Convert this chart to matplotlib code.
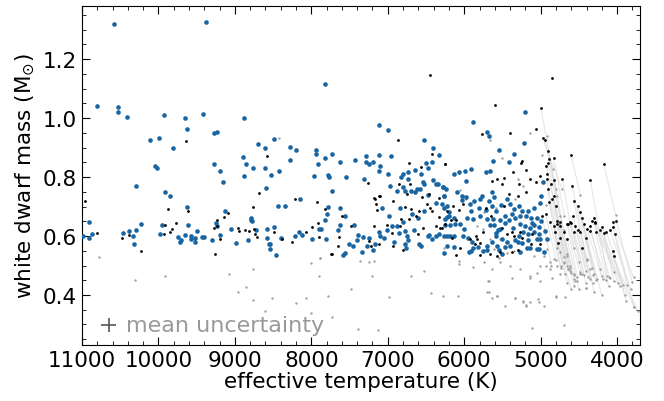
import numpy as np
import matplotlib
matplotlib.use("Agg")
import matplotlib.pyplot as plt
from matplotlib.ticker import MultipleLocator

# --- donnees ---
# points bleus (teff en K, masse en Msun)
blue_teff = [10580, 9380, 10800, 10530, 10530, 10410, 9930, 9650, 9630, 9420, 8875, 10105, 9990, 9805,
             9270, 9235, 10045, 10015, 9275, 9200, 9160, 10295, 9910, 9845, 8695, 8605, 8490, 8900,
             8850, 8760, 8605, 8875, 8525, 8425, 8595, 8275, 8195, 8280, 7945, 7945, 7915, 7825, 7735,
             7970, 7785, 7765, 7735, 8435, 8345, 8150, 9625, 9130, 8795, 8785, 8775, 7795, 7785, 7815,
             10905, 10870, 10905, 10985, 10470, 10390, 10335, 10315, 10290, 10225, 9960, 9985, 9745,
             9705, 9720, 9655, 9615, 9580, 9580, 9520, 9525, 9495, 9430, 9405, 9300, 9245, 9235, 9200,
             9045, 8990, 8830, 8725, 8585, 8585, 8555, 8535, 8540, 8485, 8395, 8465, 8220, 8155, 8120,
             7990, 7905, 7875, 7810,
             7815, 7110, 6995, 6525, 6410, 6330, 7630, 7545, 7430, 7310, 7290, 7285, 7240, 7195, 7115,
             7100, 7115, 6995, 6960, 6975, 6880, 6830, 6795, 6740, 6740, 6805, 6770, 6700, 6645, 6645,
             6620, 6575, 6560, 6540, 6530, 6505, 6480, 6425, 6410, 6375, 6340, 6280, 6260, 6480,
             7625, 7555, 7650, 7630, 7440, 7390, 7325, 7405, 7510, 7455, 7560, 7580, 7335, 7275, 7250,
             7195, 7170, 7110, 7075, 7100, 7045, 7010, 6985, 6940, 6925, 6880, 6855, 6840, 6795, 6775,
             6750, 6735, 6770, 6760, 6680, 6655, 6610, 6585, 6560, 6525, 6480, 6455, 6420, 6375, 6365,
             6325, 6290, 6260, 6245, 6220, 6270, 6200, 6190, 6260,
             5200, 5880, 5705, 5675, 5545, 5625, 5415, 5345, 5215, 5915, 5990, 6070, 6130, 5720, 5660,
             5980, 6280, 6235, 6095, 6025, 5975, 6035, 6260, 5870, 5790, 5765, 5640, 5615, 5670, 5930,
             5810, 5905, 5965, 5880, 5790, 5720, 5640, 5580, 6225, 6200, 6255, 6140, 6120, 6060, 6185,
             6000, 6015, 6140, 6225, 5950, 5895, 5880, 5940, 6130, 5825, 5705, 5660, 5625, 5535, 5530,
             5460, 5440, 5405, 5355, 5285, 5250, 5170, 5090, 5005, 4990, 4970, 5380, 5330, 5265, 5195,
             5125, 5050, 5275, 5205, 5145, 5085, 5020, 5225, 5160, 5090, 5020, 5285, 5330, 5170, 5050,
             5005, 5590, 5635, 5570, 5500, 5440, 5460, 5400, 5705, 5755, 5545, 5180, 5050, 4960, 6225,
             5265, 5135, 5020, 5500, 5705, 4915, 4945,
             5470, 5610, 5560, 5905, 5520, 5360, 5110, 5300, 5240, 4990, 5420, 5580]
blue_mass = [1.318, 1.326, 1.040, 1.037, 1.020, 1.005, 1.012, 0.999, 0.962, 1.015, 0.999, 0.924, 0.931, 0.900,
             0.948, 0.953, 0.837, 0.832, 0.845, 0.819, 0.782, 0.771, 0.750, 0.737, 0.913, 0.900, 0.928, 0.868,
             0.843, 0.830, 0.830, 0.802, 0.807, 0.821, 0.764, 0.902, 0.892, 0.859, 0.893, 0.879, 0.844, 0.866, 0.878,
             0.805, 0.807, 0.801, 0.754, 0.701, 0.702, 0.725, 0.697, 0.686, 0.662, 0.655, 0.651, 0.674, 0.697, 0.655,
             0.647, 0.607, 0.592, 0.601, 0.611, 0.616, 0.601, 0.574, 0.620, 0.641, 0.638, 0.608, 0.598,
             0.585, 0.581, 0.603, 0.637, 0.600, 0.590, 0.592, 0.578, 0.617, 0.597, 0.596, 0.588, 0.644, 0.635, 0.603,
             0.623, 0.576, 0.588, 0.620, 0.624, 0.592, 0.574, 0.572, 0.557, 0.630, 0.594, 0.534, 0.599, 0.614, 0.603,
             0.591, 0.624, 0.624, 0.591,
             1.115, 0.976, 0.960, 0.924, 0.897, 0.875, 0.850, 0.801, 0.859, 0.795, 0.872, 0.852, 0.845, 0.850, 0.875,
             0.836, 0.819, 0.811, 0.872, 0.768, 0.751, 0.801, 0.809, 0.816, 0.795, 0.765, 0.754, 0.752, 0.825, 0.748,
             0.761, 0.761, 0.811, 0.782, 0.775, 0.847, 0.829, 0.850, 0.791, 0.778, 0.778, 0.767, 0.734, 0.739,
             0.694, 0.669, 0.621, 0.637, 0.637, 0.603, 0.595, 0.588, 0.574, 0.565, 0.542, 0.536, 0.545, 0.565, 0.594,
             0.551, 0.574, 0.615, 0.696, 0.601, 0.592, 0.621, 0.669, 0.633, 0.578, 0.635, 0.610, 0.694, 0.646, 0.617,
             0.599, 0.588, 0.574, 0.558, 0.676, 0.621, 0.660, 0.574, 0.565, 0.685, 0.599, 0.603, 0.590, 0.712, 0.601,
             0.606, 0.707, 0.696, 0.637, 0.664, 0.542, 0.669, 0.601, 0.599,
             1.020, 0.985, 0.954, 0.938, 0.893, 0.854, 0.852, 0.877, 0.915, 0.827, 0.820, 0.816, 0.809, 0.816, 0.820,
             0.786, 0.766, 0.761, 0.750, 0.737, 0.732, 0.723, 0.737, 0.719, 0.725, 0.734, 0.750, 0.732, 0.719, 0.707,
             0.694, 0.685, 0.662, 0.658, 0.669, 0.689, 0.701, 0.685, 0.701, 0.681, 0.658, 0.662, 0.640, 0.640, 0.637,
             0.624, 0.601, 0.601, 0.601, 0.592, 0.578, 0.560, 0.547, 0.563, 0.563, 0.658, 0.637, 0.658, 0.624, 0.653,
             0.644, 0.725, 0.707, 0.692, 0.703, 0.685, 0.685, 0.696, 0.712, 0.737, 0.782, 0.673, 0.660, 0.669, 0.667,
             0.662, 0.662, 0.642, 0.635, 0.628, 0.637, 0.630, 0.612, 0.606, 0.612, 0.606, 0.601, 0.588, 0.588, 0.590,
             0.590, 0.601, 0.581, 0.567, 0.590, 0.578, 0.563, 0.567, 0.567, 0.549, 0.551, 0.560, 0.556, 0.545, 0.567,
             0.545, 0.560, 0.556, 0.540, 0.554, 0.590, 0.617,
             0.669, 0.637, 0.620, 0.548, 0.706, 0.628, 0.645, 0.580, 0.575, 0.650, 0.655, 0.610]

# points noirs sans trait
black_teff = [10965, 10800, 10480, 10390, 10225, 9635, 9610, 9875, 9915, 9930, 9845, 9820, 9770, 9275, 9240,
              9230, 9190, 9140, 9095, 9260, 8960, 8950, 8865, 8820, 8760, 8745, 8740, 8710, 8680, 8575, 8490,
              8390, 8250, 8210, 8065, 7995, 7920, 7915, 7900, 7815, 7740,
              6445, 6860, 6725, 6565, 6425, 6245, 7255, 6855, 6715, 6750, 6550, 6455, 6330, 7110, 7180, 7170,
              7100, 7150, 7135, 6935, 7595, 7485, 7185, 7005, 6940, 6830, 6840, 6725, 6635, 6770, 6690, 6585,
              6490, 6445, 6420, 6330, 6375, 6315, 6245, 7250, 7220, 7110, 6935, 6805, 6600, 6540, 7650, 7640, 7735,
              5600, 4850, 5765, 5405, 5060, 6245, 5240, 5260, 5365, 5190, 5285, 5195, 5145, 5055, 5005, 4920,
              5635, 5565, 5485, 5500, 5415, 5300, 6150, 6070, 6015, 6220, 6295, 6105, 5710, 5650, 5755, 5835,
              5920, 5790, 5850, 5860, 6050, 6155, 6105, 5475, 5500, 5440, 5380, 5345, 5265, 5250, 5110, 5125,
              5005, 5380, 5300, 5530, 5660, 5570, 5790, 6175]
black_mass = [0.720, 0.611, 0.592, 0.605, 0.549, 0.923, 0.684, 0.692, 0.636, 0.608, 0.614, 0.625, 0.645, 0.626, 0.653,
              0.633, 0.590, 0.664, 0.677, 0.538, 0.627, 0.616, 0.620, 0.618, 0.697, 0.624, 0.606, 0.597, 0.745, 0.873, 0.612,
              0.589, 0.578, 0.725, 0.612, 0.630, 0.715, 0.645, 0.597, 0.692, 0.538,
              1.146, 0.924, 0.847, 0.835, 0.877, 0.844, 0.780, 0.775, 0.775, 0.741, 0.732, 0.741, 0.728, 0.737, 0.728, 0.725,
              0.734, 0.710, 0.689, 0.719, 0.667, 0.633, 0.635, 0.637, 0.610, 0.658, 0.633, 0.658, 0.669, 0.700, 0.691, 0.685,
              0.710, 0.696, 0.685, 0.664, 0.633, 0.626, 0.642, 0.583, 0.567, 0.572, 0.567, 0.551, 0.606, 0.628, 0.565, 0.597, 0.538,
              1.044, 1.136, 0.945, 0.949, 0.963, 0.845, 0.856, 0.847, 0.818, 0.825, 0.775, 0.748, 0.793, 0.784, 0.804, 0.809,
              0.786, 0.793, 0.798, 0.777, 0.741, 0.737, 0.703, 0.689, 0.707, 0.685, 0.626, 0.653, 0.696, 0.669, 0.612, 0.590,
              0.590, 0.576, 0.599, 0.574, 0.558, 0.594, 0.535, 0.703, 0.628, 0.608, 0.612, 0.601, 0.615, 0.592, 0.606, 0.572,
              0.572, 0.547, 0.554, 0.545, 0.538, 0.533, 0.535, 0.655]

# paires noir -> gris reliees par un trait (objets froids)
pair_teff_black = [4995, 4970, 4945, 4910, 4830, 4890, 4910, 4925, 4605, 4175, 4350, 4585, 4715, 4820, 4920,
                   4870, 4910, 4830, 4850, 4885, 4805, 4570, 4515, 4480, 4465, 4575, 4610, 4655, 4745, 4785,
                   4830, 4875, 4550, 4350, 4290, 4195, 4055, 4010, 4980, 4935, 4780, 4745, 4700, 4645, 4605,
                   4560, 4515, 4480, 4435, 4395, 4350, 4290, 4280, 4220, 4175, 4140, 4095, 4055, 4025, 4410,
                   4455, 4060, 4045, 4330, 4300, 4770, 4745, 4815, 4655]
pair_mass_black = [1.033, 0.933, 0.927, 0.888, 0.866, 0.861, 0.847, 0.836, 0.876, 0.845, 0.789, 0.771, 0.793, 0.791, 0.795,
                   0.778, 0.759, 0.737, 0.725, 0.714, 0.703, 0.719, 0.701, 0.680, 0.662, 0.667, 0.646, 0.642, 0.649, 0.642,
                   0.635, 0.646, 0.633, 0.633, 0.646, 0.631, 0.631, 0.651, 0.669, 0.673, 0.651, 0.635, 0.612, 0.640, 0.644,
                   0.615, 0.619, 0.615, 0.640, 0.624, 0.617, 0.644, 0.612, 0.619, 0.610, 0.615, 0.621, 0.646, 0.608, 0.592,
                   0.560, 0.549, 0.533, 0.650, 0.660, 0.576, 0.594, 0.612, 0.590]
pair_teff_gray = [4790, 4840, 4800, 4720, 4690, 4745, 4700, 4760, 4480, 4020, 4130, 4400, 4560, 4650, 4770,
                  4700, 4780, 4660, 4700, 4740, 4610, 4400, 4330, 4300, 4280, 4410, 4460, 4520, 4570, 4620,
                  4680, 4740, 4380, 4200, 4100, 4040, 3870, 3800, 4860, 4800, 4640, 4600, 4560, 4480, 4430,
                  4410, 4350, 4320, 4260, 4190, 4150, 4045, 4110, 3990, 3960, 3920, 3820, 3785, 3780, 4200,
                  4300, 3900, 3880, 3775, 3730, 4600, 4560, 4650, 4500]
pair_mass_gray = [0.737, 0.827, 0.759, 0.759, 0.669, 0.669, 0.620, 0.640, 0.739, 0.672, 0.465, 0.520, 0.560, 0.540, 0.575,
                  0.530, 0.560, 0.500, 0.510, 0.500, 0.490, 0.520, 0.490, 0.470, 0.450, 0.480, 0.470, 0.460, 0.470, 0.480,
                  0.470, 0.490, 0.460, 0.465, 0.460, 0.447, 0.434, 0.443, 0.500, 0.520, 0.488, 0.476, 0.455, 0.470, 0.468,
                  0.440, 0.455, 0.440, 0.454, 0.454, 0.450, 0.477, 0.430, 0.440, 0.430, 0.434, 0.420, 0.460, 0.360, 0.400,
                  0.410, 0.400, 0.380, 0.359, 0.346, 0.420, 0.430, 0.440, 0.420]

# points gris sans trait
gray_teff = [10775, 10310, 9920, 9080, 8965, 8860, 8765, 8765, 8425, 7885, 8005, 7885, 7900, 8070, 8200, 8515,
             8600, 8005, 7780, 7735, 7475, 7395, 7360, 7250, 7185, 7205, 7125, 6985, 6690, 6530, 6435, 6280,
             5500, 5660, 5145, 5300, 5225, 6050, 5980, 5660, 5580, 5485, 5745, 5835, 5755, 5330, 4925, 5660,
             5530, 5615, 5440, 5355, 5545, 6260, 4920, 4980, 5745, 5635, 5685, 5705, 5640, 5565, 5460, 5335,
             5225, 5190, 5145, 5040, 5020, 4960, 5110, 4795, 4680, 4700, 5530, 5395, 5265, 5135, 5050, 4935,
             4875, 4855, 4745, 4645, 4570, 4525, 4410, 4310, 4960, 4830, 4745, 4655, 4700, 4915, 5090, 5005,
             4875, 4785, 4610, 4480, 4350, 4220, 4090, 4500, 4395, 6080, 5885, 5675, 5565, 5335, 5230, 5190,
             4795, 6070, 6070, 5670, 5370, 5135, 5005, 4545, 4410]
gray_mass = [0.530, 0.451, 0.464, 0.471, 0.409, 0.428, 0.488, 0.384, 0.933, 0.527, 0.508, 0.525, 0.464, 0.389, 0.373, 0.391,
             0.347, 0.338, 0.398, 0.324, 0.420, 0.286, 0.514, 0.513, 0.516, 0.465, 0.281, 0.393, 0.465, 0.481, 0.406, 0.395,
             0.863, 0.924, 0.949, 0.795, 0.768, 0.757, 0.725, 0.719, 0.696, 0.701, 0.680, 0.635, 0.624, 0.725, 0.705, 0.590,
             0.590, 0.556, 0.542, 0.549, 0.524, 0.558, 0.940, 0.875, 0.511, 0.488, 0.447, 0.411, 0.391, 0.398, 0.364, 0.389,
             0.380, 0.362, 0.375, 0.386, 0.375, 0.362, 0.289, 0.393, 0.393, 0.298, 0.511, 0.499, 0.488, 0.465, 0.476, 0.499,
             0.488, 0.456, 0.470, 0.488, 0.468, 0.447, 0.423, 0.468, 0.533, 0.522, 0.545, 0.533, 0.511, 0.556, 0.533, 0.499,
             0.511, 0.499, 0.499, 0.477, 0.488, 0.488, 0.459, 0.511, 0.522, 0.395, 0.495, 0.409, 0.395, 0.391, 0.375, 0.366,
             0.395, 0.515, 0.504, 0.447, 0.459, 0.456, 0.448, 0.448, 0.425]

# incertitude moyenne
err_teff, err_mass = 10650, 0.298
err_dteff, err_dmass = 95, 0.025

##
fig = plt.figure(figsize=(6.64, 4.02), dpi=100)
ax = fig.add_axes([0.1235, 0.139, 0.8404, 0.8436])

# traits entre les deux solutions
ax.plot(np.vstack([pair_teff_black, pair_teff_gray]), np.vstack([pair_mass_black, pair_mass_gray]),
        '-', color='#d8d8d8', lw=0.8, alpha=0.6, zorder=1)

ax.scatter(gray_teff, gray_mass, s=3, color='#a0a0a0', lw=0, zorder=2)
ax.scatter(pair_teff_gray, pair_mass_gray, s=3, color='#a0a0a0', lw=0, zorder=2)
ax.scatter(blue_teff, blue_mass, s=11, color='#1765a3', lw=0, zorder=3)
ax.scatter(black_teff, black_mass, s=4, color='k', lw=0, zorder=4)
ax.scatter(pair_teff_black, pair_mass_black, s=4, color='k', lw=0, zorder=4)

# barre d'erreur moyenne
ax.errorbar(err_teff, err_mass, xerr=err_dteff, yerr=err_dmass, fmt='none', ecolor='#555555', elinewidth=1.2)
ax.text(err_teff - 220, err_mass, "mean uncertainty", color='#999999', fontsize=16, va='center', ha='left')

ax.set_xlim(11000, 3700)
ax.set_ylim(0.23, 1.38)
ax.xaxis.set_major_locator(MultipleLocator(1000))
ax.xaxis.set_minor_locator(MultipleLocator(200))
ax.yaxis.set_major_locator(MultipleLocator(0.2))
ax.yaxis.set_minor_locator(MultipleLocator(0.05))
ax.tick_params(which='both', direction='in', top=True, right=True, labelsize=15.5)
ax.tick_params(which='major', length=6)
ax.tick_params(which='minor', length=3)
ax.set_xlabel("effective temperature (K)", fontsize=15.5, labelpad=1)
ax.set_ylabel(r"white dwarf mass (M$_{\odot}$)", fontsize=15.5, labelpad=4)

plt.savefig("out.png", dpi=100)
